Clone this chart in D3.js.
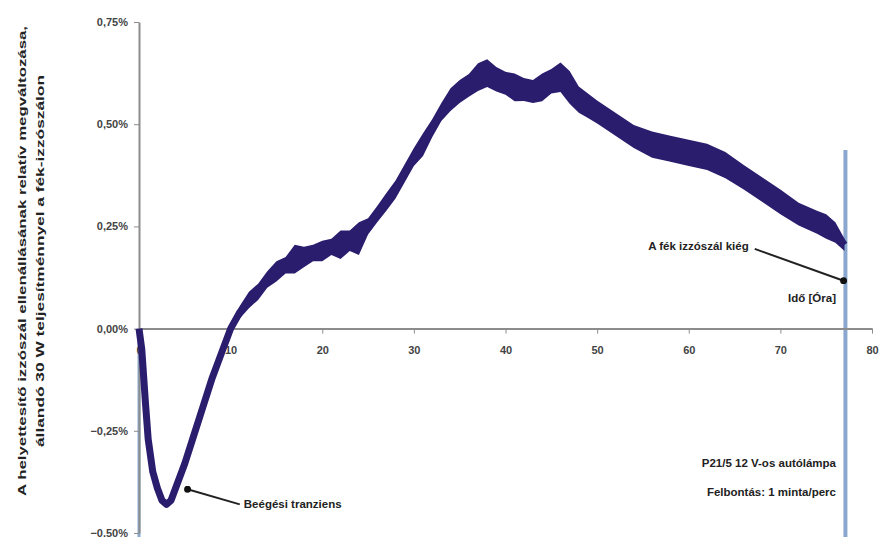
<!DOCTYPE html>
<html>
<head>
<meta charset="utf-8">
<script src="https://cdn.jsdelivr.net/npm/d3@7"></script>
<style>
  body { margin: 0; background: #fff; }
  svg text { font-family: "Liberation Sans", Arial, sans-serif; font-weight: bold; }
</style>
</head>
<body>
<svg id="chart" width="881" height="537"></svg>
<script>
// time in hours
const hours = [0,0.3,0.7,1,1.5,2,2.5,3,3.5,4,
  5,6,7,8,9,10,11,12,13,14,
  15,16,17,18,19,20,21,22,23,24,
  25,26,27,28,29,30,31,32,33,34,
  35,36,37,38,39,40,41,42,43,44,
  45,46,47,48,49,50,52,54,56,58,
  60,62,64,66,68,70,72,74,75,76,
  77];
// relative change of resistance, %
const level = [0,-0.05,-0.18,-0.27,-0.35,-0.39,-0.42,-0.43,-0.42,-0.39,
  -0.33,-0.26,-0.19,-0.12,-0.06,0.00,0.04,0.07,0.09,0.12,
  0.14,0.155,0.17,0.175,0.185,0.19,0.20,0.205,0.215,0.22,
  0.25,0.28,0.31,0.34,0.38,0.42,0.45,0.49,0.53,0.56,
  0.58,0.595,0.615,0.625,0.61,0.60,0.59,0.585,0.58,0.59,
  0.605,0.615,0.59,0.56,0.545,0.53,0.50,0.47,0.45,0.44,
  0.43,0.42,0.40,0.37,0.34,0.31,0.28,0.26,0.25,0.235,
  0.205];
// half-width of the measurement noise, %
const spread = [0,0,0,0,0,0,0,0,0,0,
  0,0,0,0,0.005,0.01,0.015,0.02,0.02,0.02,
  0.025,0.02,0.035,0.025,0.02,0.025,0.02,0.035,0.025,0.04,
  0.02,0.02,0.022,0.022,0.022,0.022,0.028,0.022,0.022,0.028,
  0.028,0.028,0.034,0.034,0.03,0.028,0.034,0.028,0.028,0.034,
  0.03,0.036,0.04,0.032,0.03,0.028,0.028,0.028,0.032,0.032,
  0.032,0.032,0.032,0.03,0.03,0.03,0.028,0.028,0.03,0.025,
  0.015];

const xTicks = [0,10,20,30,40,50,60,70,80];
const yTicks = [-0.5,-0.25,0,0.25,0.5,0.75];
const markerHours = [0, 77.1]; // start and filament failure

const yTitle = ["A helyettesítő izzószál ellenállásának relatív megváltozása,",
                "állandó 30 W teljesítménnyel a fék-izzószálon"];
const yTitleLen = [470, 372];

const notes = [
  { text: "A fék izzószál kiég", tail: [67.2, 0.195], tip: [76.9, 0.117] },
  { text: "Beégési tranziens", tail: [11.0, -0.43], tip: [5.3, -0.393] }
];
const infoLines = ["P21/5 12 V-os autólámpa", "Felbontás: 1 minta/perc"];

const svg = d3.select("#chart");
const x = d3.scaleLinear().domain([0, 80]).range([139, 872]);
const y = d3.scaleLinear().domain([-0.5, 0.75]).range([533, 22]);

const data = hours.map((h, i) => ({ h, v: level[i], s: spread[i] }));

// blue vertical markers
svg.selectAll(".marker")
  .data(markerHours)
  .enter().append("line")
  .attr("x1", d => x(d)).attr("x2", d => x(d))
  .attr("y1", (d, i) => i === 0 ? y(0) : 150)
  .attr("y2", 537)
  .attr("stroke", "#8aa8cf")
  .attr("stroke-width", (d, i) => i === 0 ? 3 : 4);

// axes
const fmt = d => d3.format(".2f")(d).replace(".", ",") + "%";
const yAxis = svg.append("g")
  .attr("transform", `translate(${x(0)},0)`)
  .call(d3.axisLeft(y).tickValues(yTicks).tickFormat(fmt).tickSize(5).tickSizeOuter(0).tickPadding(6));
yAxis.select(".domain").attr("stroke", "#8c8c8c").attr("stroke-width", 2);
yAxis.selectAll(".tick line").attr("stroke", "#8c8c8c");
yAxis.selectAll("text").attr("font-size", 11).attr("fill", "#444");

const xAxis = svg.append("g")
  .attr("transform", `translate(0,${y(0)})`)
  .call(d3.axisBottom(x).tickValues(xTicks).tickSize(5).tickSizeOuter(0).tickPadding(13));
xAxis.select(".domain").attr("stroke", "#8c8c8c").attr("stroke-width", 2);
xAxis.selectAll(".tick line").attr("stroke", "#8c8c8c");
xAxis.selectAll("text").attr("font-size", 11).attr("fill", "#444");

// noisy measurement band
svg.append("path")
  .datum(data)
  .attr("fill", "#2a1d6e")
  .attr("d", d3.area().x(d => x(d.h)).y0(d => y(d.v - d.s)).y1(d => y(d.v + d.s)));

svg.append("path")
  .datum(data)
  .attr("fill", "none")
  .attr("stroke", "#2a1d6e")
  .attr("stroke-width", 7)
  .attr("stroke-linejoin", "round")
  .attr("d", d3.line().x(d => x(d.h)).y(d => y(d.v)));

// y title
svg.append("g").selectAll("text")
  .data(yTitle)
  .enter().append("text")
  .attr("transform", (d, i) => `translate(${26 + i * 18},261) rotate(-90)`)
  .attr("text-anchor", "middle")
  .attr("font-size", 11)
  .attr("textLength", (d, i) => yTitleLen[i])
  .attr("lengthAdjust", "spacingAndGlyphs")
  .attr("fill", "#222")
  .text(d => d);

// annotations
svg.append("defs").append("marker")
  .attr("id", "dot")
  .attr("viewBox", "0 0 10 10").attr("refX", 5).attr("refY", 5)
  .attr("markerWidth", 3.5).attr("markerHeight", 3.5)
  .append("circle").attr("cx", 5).attr("cy", 5).attr("r", 5).attr("fill", "#111");

svg.selectAll(".arrow")
  .data(notes)
  .enter().append("line")
  .attr("x1", d => x(d.tail[0])).attr("y1", d => y(d.tail[1]))
  .attr("x2", d => x(d.tip[0])).attr("y2", d => y(d.tip[1]))
  .attr("stroke", "#222").attr("stroke-width", 2)
  .attr("marker-end", "url(#dot)");

svg.append("text")
  .attr("x", x(notes[0].tail[0]) - 6).attr("y", y(notes[0].tail[1]) + 1)
  .attr("text-anchor", "end").attr("font-size", 11.5).attr("fill", "#222")
  .text(notes[0].text);

svg.append("text")
  .attr("x", x(notes[1].tail[0]) + 4).attr("y", y(notes[1].tail[1]) + 4)
  .attr("font-size", 11.5).attr("fill", "#222")
  .text(notes[1].text);

svg.append("text")
  .attr("x", 836).attr("y", 302)
  .attr("text-anchor", "end").attr("font-size", 11.5).attr("fill", "#222")
  .text("Idő [Óra]");

svg.selectAll(".info")
  .data(infoLines)
  .enter().append("text")
  .attr("x", 836).attr("y", (d, i) => 467 + i * 29)
  .attr("text-anchor", "end").attr("font-size", 11.5).attr("fill", "#222")
  .text(d => d);
</script>
</body>
</html>
